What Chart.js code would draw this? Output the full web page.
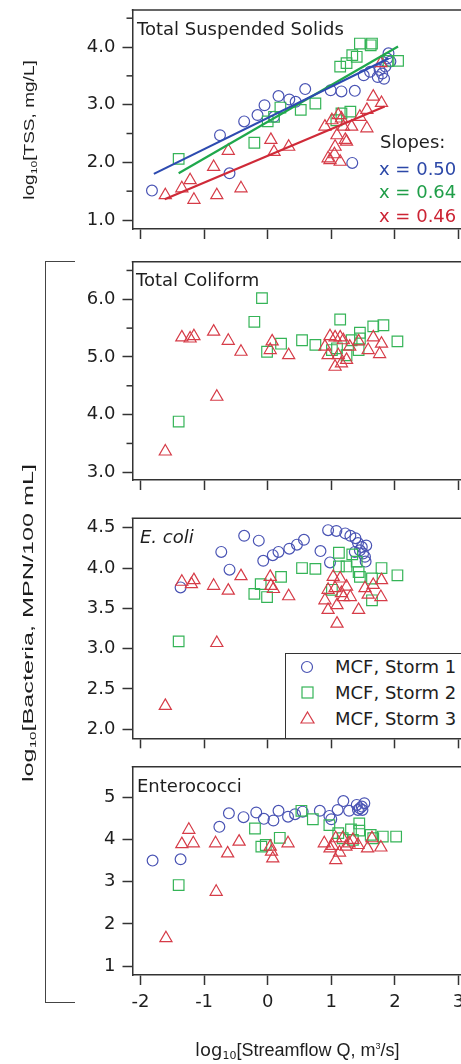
<!DOCTYPE html>
<html><head><meta charset="utf-8">
<script src="https://cdn.jsdelivr.net/npm/chart.js@4/dist/chart.umd.min.js"></script>
<style>
html,body{margin:0;padding:0;background:#fff;overflow:hidden;width:461px;height:1064px;}
canvas{position:absolute;left:0;}
.t{position:absolute;font-family:"DejaVu Sans",sans-serif;font-size:18px;line-height:18px;color:#1e1e1e;white-space:nowrap;}
.yt{position:absolute;width:400px;height:20px;line-height:20px;text-align:center;white-space:nowrap;color:#1e1e1e;font-family:"Liberation Sans",sans-serif;font-size:14px;}
sub{font-size:9px;vertical-align:-3px;line-height:0;}
#bracket{position:absolute;left:45px;top:261px;width:30px;height:742px;border:1.5px solid #444;border-right:none;box-sizing:border-box;}
#legend{position:absolute;left:285px;top:653px;width:190px;height:86px;border:1.5px solid #333;background:#fff;box-sizing:border-box;z-index:5;}
</style></head>
<body>
<canvas id="c1" width="461" height="250" style="top:0px"></canvas>
<canvas id="c2" width="461" height="250" style="top:250px"></canvas>
<canvas id="c3" width="461" height="250" style="top:505px"></canvas>
<canvas id="c4" width="461" height="309" style="top:755px"></canvas>

<div class="t" style="left:137px;top:20px;">Total Suspended Solids</div>
<div class="t" style="left:136px;top:271px;">Total Coliform</div>
<div class="t" style="left:140px;top:528px;font-style:italic;">E. coli</div>
<div class="t" style="left:137px;top:777px;">Enterococci</div>

<div class="t" style="left:380px;top:133px;">Slopes:</div>
<div class="t" style="left:379px;top:160px;color:#2c48a8;">x = 0.50</div>
<div class="t" style="left:379px;top:183px;color:#1f9e48;">x = 0.64</div>
<div class="t" style="left:379px;top:207px;color:#cc2434;">x = 0.46</div>

<div id="legend">
  <svg width="190" height="86" style="position:absolute;left:0;top:0">
    <circle cx="21" cy="13" r="5.5" fill="none" stroke="#4a54b4" stroke-width="1.2"/>
    <rect x="16" y="33" width="11" height="11" fill="none" stroke="#35b457" stroke-width="1.2"/>
    <polygon points="21.5,58 28,69 15,69" fill="none" stroke="#d63c48" stroke-width="1.2"/>
  </svg>
  <div class="t" style="left:49px;top:4px;">MCF, Storm 1</div>
  <div class="t" style="left:49px;top:30px;">MCF, Storm 2</div>
  <div class="t" style="left:49px;top:56px;">MCF, Storm 3</div>
</div>

<div id="bracket"></div>
<div class="yt" style="left:-171px;top:120px;transform:rotate(-90deg) scaleX(1.36);">log<sub>10</sub>[TSS, mg/L]</div>
<div class="yt" style="left:-172px;top:613px;font-size:15px;transform:rotate(-90deg) scaleX(1.68);">log<sub>10</sub>[Bacteria, MPN/100 mL]</div>
<div class="t" style="left:195px;top:1041px;"><span style="font-size:18px">log<sub style="font-size:11px">10</sub></span><span style="font-family:'Liberation Sans',sans-serif;font-size:18px">[Streamflow Q, m<sup style="font-size:9px;line-height:0">3</sup>/s]</span></div>

<script>
// ---------- axes ----------
const xTicks = [-2, -1, 0, 1, 2, 3];
const xRange = [-2.126, 3.04];
const tssYTicks = [1.0, 2.0, 3.0, 4.0];
const tssYMinor = [1.5, 2.5, 3.5, 4.5];
const tcYTicks = [3.0, 4.0, 5.0, 6.0];
const tcYMinor = [3.5, 4.5, 5.5, 6.5];
const ecYTicks = [2.0, 2.5, 3.0, 3.5, 4.0, 4.5];
const entYTicks = [1, 2, 3, 4, 5];

// ---------- Total Suspended Solids ----------
const tssStorm1 = [[-1.82,1.51],[-0.75,2.47],[-0.60,1.81],[-0.37,2.71],[-0.16,2.82],[-0.05,2.99],[0.10,2.79],[0.17,3.15],[0.34,3.09],[0.44,3.05],[0.59,3.27],[0.99,3.25],[1.16,3.23],[1.37,3.24],[1.51,3.51],[1.61,3.57],[1.73,3.48],[1.80,3.54],[1.83,3.45],[1.85,3.66],[1.88,3.80],[1.90,3.89],[1.93,3.75],[1.76,3.60],[1.33,1.99]];
const tssStorm2 = [[-1.40,2.06],[-0.21,2.34],[0.00,2.71],[0.10,2.79],[0.20,2.95],[0.52,2.91],[0.75,3.02],[1.08,2.73],[1.16,2.85],[1.30,2.88],[1.14,3.66],[1.24,3.72],[1.33,3.86],[1.40,3.83],[1.45,4.06],[1.64,4.06],[1.62,4.03],[1.90,3.76],[2.05,3.76]];
const tssStorm3 = [[-1.61,1.43],[-1.35,1.55],[-1.22,1.69],[-1.16,1.35],[-0.85,1.92],[-0.80,1.43],[-0.62,2.20],[-0.42,1.55],[0.05,2.39],[0.10,2.18],[0.33,2.27],[0.90,2.62],[0.95,2.07],[0.98,2.04],[1.01,2.73],[1.05,2.14],[1.06,2.27],[1.09,2.47],[1.11,2.82],[1.14,2.01],[1.16,2.76],[1.19,2.62],[1.22,2.39],[1.24,2.36],[1.32,2.62],[1.45,2.79],[1.56,2.59],[1.56,2.91],[1.66,3.14],[1.79,3.03],[1.78,3.72]];
const tssFit1 = [[-1.79,1.80],[1.90,3.80]];
const tssFit2 = [[-1.40,1.81],[2.05,4.01]];
const tssFit3 = [[-1.62,1.36],[1.84,2.97]];

// ---------- Total Coliform ----------
const tcStorm2 = [[-1.40,3.88],[-0.09,6.02],[-0.21,5.61],[-0.01,5.09],[0.21,5.23],[0.54,5.29],[0.75,5.21],[1.01,5.12],[1.09,5.15],[1.14,5.65],[1.24,5.03],[1.32,5.29],[1.43,5.12],[1.45,5.42],[1.45,5.32],[1.66,5.53],[1.82,5.55],[2.04,5.27]];
const tcStorm3 = [[-1.61,3.36],[-1.35,5.34],[-1.22,5.32],[-1.16,5.36],[-0.85,5.44],[-0.80,4.31],[-0.62,5.28],[-0.42,5.09],[0.04,5.12],[0.07,5.27],[0.33,5.03],[0.90,5.18],[0.95,5.03],[0.98,5.36],[1.06,5.34],[1.06,4.83],[1.11,5.03],[1.14,5.34],[1.16,4.89],[1.19,5.29],[1.24,4.95],[1.29,5.18],[1.43,5.27],[1.58,5.12],[1.66,5.34],[1.79,5.23],[1.76,5.05]];

// ---------- E. coli ----------
const ecStorm1 = [[-1.37,3.76],[-0.73,4.20],[-0.60,3.98],[-0.37,4.40],[-0.14,4.34],[-0.07,4.09],[0.08,4.16],[0.17,4.20],[0.34,4.24],[0.46,4.29],[0.57,4.35],[0.83,4.21],[0.95,4.47],[0.98,4.07],[1.08,4.46],[1.22,4.43],[1.30,4.40],[1.38,4.37],[1.42,4.31],[1.48,4.26],[1.50,4.18],[1.53,4.14],[1.54,4.08],[1.37,4.20],[1.45,4.22],[1.55,4.28]];
const ecStorm2 = [[-1.40,3.09],[-0.21,3.68],[-0.11,3.80],[-0.01,3.64],[0.21,3.89],[0.54,4.00],[0.75,3.99],[1.01,3.73],[1.12,4.19],[1.12,4.02],[1.24,4.02],[1.33,4.17],[1.40,4.08],[1.43,3.95],[1.45,3.89],[1.64,3.87],[1.64,3.60],[1.79,4.00],[2.04,3.91]];
const ecStorm3 = [[-1.61,2.29],[-1.35,3.83],[-1.20,3.80],[-1.16,3.85],[-0.85,3.78],[-0.80,3.07],[-0.62,3.72],[-0.42,3.90],[0.04,3.89],[0.05,3.78],[0.09,3.74],[0.33,3.65],[0.90,3.60],[0.95,3.73],[0.95,3.48],[1.03,3.89],[1.06,3.75],[1.09,3.54],[1.09,3.31],[1.14,3.87],[1.16,3.69],[1.19,3.64],[1.24,3.77],[1.30,3.64],[1.43,3.48],[1.53,3.75],[1.58,3.67],[1.66,3.79],[1.78,3.64],[1.79,3.85]];

// ---------- Enterococci ----------
const entStorm1 = [[-1.81,3.50],[-1.37,3.53],[-0.76,4.30],[-0.61,4.62],[-0.38,4.53],[-0.18,4.64],[-0.06,4.49],[0.09,4.45],[0.17,4.68],[0.32,4.54],[0.43,4.60],[0.55,4.66],[0.82,4.68],[0.97,4.56],[1.00,4.48],[1.10,4.70],[1.19,4.91],[1.28,4.68],[1.40,4.82],[1.42,4.70],[1.45,4.74],[1.48,4.78],[1.49,4.70],[1.52,4.86]];
const entStorm2 = [[-1.40,2.92],[-0.20,4.26],[-0.10,3.83],[-0.03,3.87],[0.19,4.04],[0.53,4.68],[0.71,4.48],[0.97,4.34],[1.11,4.15],[1.18,4.03],[1.31,4.24],[1.34,3.99],[1.44,4.38],[1.44,4.21],[1.62,4.11],[1.66,4.03],[1.81,4.07],[2.02,4.07]];
const entStorm3 = [[-1.60,1.66],[-1.35,3.89],[-1.24,4.23],[-1.17,3.91],[-0.82,3.91],[-0.81,2.76],[-0.63,3.67],[-0.45,3.95],[0.04,3.83],[0.06,3.71],[0.08,3.55],[0.32,3.91],[0.89,3.91],[0.98,3.79],[1.02,3.85],[1.07,3.51],[1.07,4.03],[1.13,3.69],[1.18,4.03],[1.23,3.83],[1.28,3.91],[1.34,3.99],[1.42,3.87],[1.57,3.79],[1.64,4.03],[1.78,3.81]];

// ---------- styling ----------
const C1 = '#4a54b4', C2 = '#35b457', C3 = '#d63c48';
const L1 = '#2d4bb0', L2 = '#1fa84c', L3 = '#cf2a38';
const FONT = {family: 'DejaVu Sans', size: 18};
const pts = a => a.map(p => ({x: p[0], y: p[1]}));

function scatterSet(arr, style, color, r) {
  return {data: pts(arr), pointStyle: style, pointRadius: r, pointHoverRadius: r,
    borderColor: color, backgroundColor: 'rgba(0,0,0,0)', pointBorderWidth: 1.2, showLine: false};
}
function lineSet(arr, color) {
  return {data: pts(arr), showLine: true, borderColor: color, borderWidth: 2.2, pointRadius: 0, fill: false};
}

const framePlugin = {
  id: 'frame',
  afterDraw(chart, args, opts) {
    const {ctx, chartArea: a} = chart;
    const y = chart.scales.y;
    ctx.save();
    ctx.strokeStyle = '#333'; ctx.lineWidth = 1.5;
    ctx.beginPath(); ctx.moveTo(a.left - 0.75, a.top); ctx.lineTo(a.right, a.top); ctx.stroke();
    (opts.minor || []).forEach(v => {
      const p = y.getPixelForValue(v);
      ctx.beginPath(); ctx.moveTo(a.left - 6, p); ctx.lineTo(a.left, p); ctx.stroke();
    });
    ctx.restore();
  }
};

function panel(id, padTop, xH, yMin, yMax, yTicks, yMinor, decimals, showXLabels, datasets) {
  new Chart(document.getElementById(id), {
    type: 'scatter',
    data: {datasets},
    options: {
      responsive: false, animation: false, devicePixelRatio: 1,
      layout: {padding: {top: padTop, left: 0, right: 0, bottom: 0}, autoPadding: false},
      plugins: {legend: {display: false}, tooltip: {enabled: false}, frame: {minor: yMinor}},
      scales: {
        x: {
          type: 'linear', min: xRange[0], max: xRange[1],
          afterBuildTicks: s => { s.ticks = xTicks.map(v => ({value: v})); },
          afterFit: s => { s.height = xH; s.paddingLeft = 0; s.paddingRight = 0; },
          grid: {drawOnChartArea: false, drawTicks: true, tickLength: 10, tickColor: '#333', tickWidth: 1.5},
          border: {display: true, color: '#333', width: 1.5},
          ticks: {display: showXLabels, padding: 7, font: FONT, color: '#1e1e1e', maxRotation: 0, autoSkip: false,
                  callback: v => String(v)}
        },
        y: {
          type: 'linear', min: yMin, max: yMax,
          afterBuildTicks: s => { s.ticks = yTicks.map(v => ({value: v})); },
          afterFit: s => { s.width = 132.5; s.paddingTop = 0; s.paddingBottom = 0; },
          grid: {drawOnChartArea: false, drawTicks: true, tickLength: 10, tickColor: '#333', tickWidth: 1.5},
          border: {display: true, color: '#333', width: 1.5},
          ticks: {padding: 7, font: FONT, color: '#1e1e1e', autoSkip: false,
                  callback: v => Number(v).toFixed(decimals)}
        }
      }
    },
    plugins: [framePlugin]
  });
}

panel('c1', 10, 21, 0.844, 4.642, tssYTicks, tssYMinor, 1, false, [
  lineSet(tssFit1, L1), lineSet(tssFit2, L2), lineSet(tssFit3, L3),
  scatterSet(tssStorm3, 'triangle', C3, 7),
  scatterSet(tssStorm2, 'rect', C2, 7.5),
  scatterSet(tssStorm1, 'circle', C1, 5.4)
]);
panel('c2', 11.7, 20, 2.866, 6.652, tcYTicks, tcYMinor, 1, false, [
  scatterSet(tcStorm3, 'triangle', C3, 7),
  scatterSet(tcStorm2, 'rect', C2, 7.5)
]);
panel('c3', 13.3, 16.7, 1.888, 4.617, ecYTicks, [], 1, false, [
  scatterSet(ecStorm3, 'triangle', C3, 7),
  scatterSet(ecStorm2, 'rect', C2, 7.5),
  scatterSet(ecStorm1, 'circle', C1, 5.4)
]);
panel('c4', 11.7, 89, 0.787, 5.726, entYTicks, [], 0, true, [
  scatterSet(entStorm3, 'triangle', C3, 7),
  scatterSet(entStorm2, 'rect', C2, 7.5),
  scatterSet(entStorm1, 'circle', C1, 5.4)
]);
</script>
</body></html>
